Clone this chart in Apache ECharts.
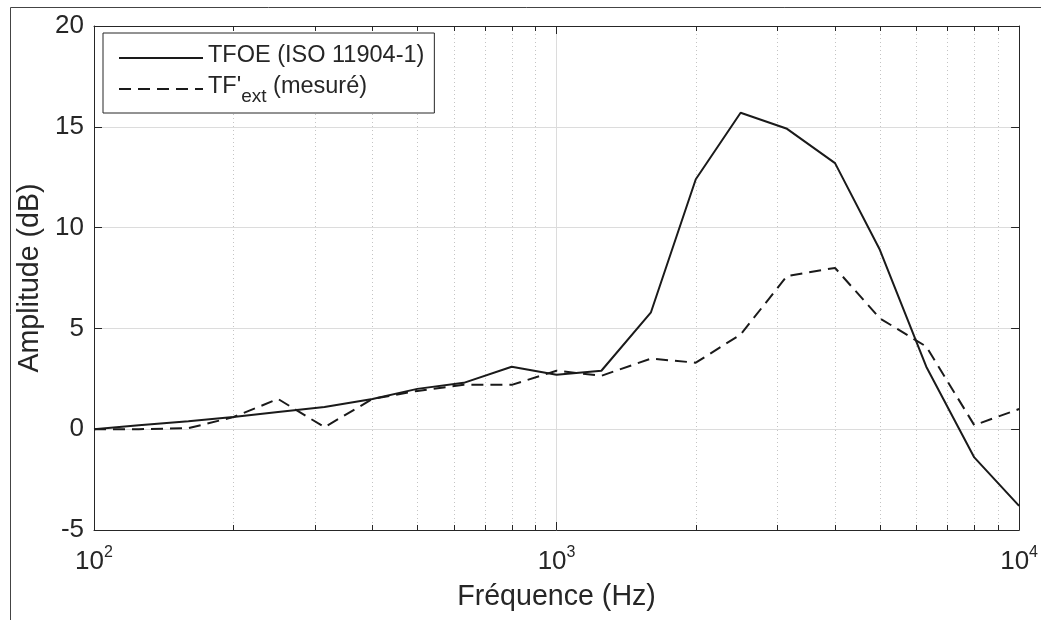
<!DOCTYPE html>
<html>
<head>
<meta charset="utf-8">
<script src="https://cdn.jsdelivr.net/npm/echarts@6/dist/echarts.min.js"></script>
<style>html,body{margin:0;padding:0;background:#fff}#c{width:1041px;height:620px}</style>
</head>
<body>
<div id="c"></div>
<script>
const freqs = [100,125,160,200,250,315,400,500,630,800,1000,1250,1600,2000,2500,3150,4000,5000,6300,8000,10000];
const tfoe = [0,0.2,0.4,0.6,0.85,1.1,1.5,2.0,2.3,3.1,2.7,2.9,5.8,12.4,15.7,14.9,13.2,8.9,3.1,-1.4,-3.8];
const tfext = [0,0,0.05,0.6,1.5,0.1,1.5,1.9,2.2,2.2,2.9,2.65,3.5,3.3,4.7,7.6,8.0,5.5,4.1,0.2,1.0];
const minorFreqs = [200,300,400,500,600,700,800,900,2000,3000,4000,5000,6000,7000,8000,9000];
const yTicks = [-5,0,5,10,15,20];
const nameA = 'TFOE (ISO 11904-1)';
const nameB = "TF'ext (mesuré)";

const FONT = '"Liberation Sans", Arial, Helvetica, sans-serif';
const TXT = '#262626';
const chart = echarts.init(document.getElementById('c'));

const commonX = {
  type: 'log', logBase: 10, min: 100, max: 10000,
  axisLine: {show: true, onZero: false, lineStyle: {color: TXT, width: 1}},
  axisTick: {show: true, inside: true, length: 8, lineStyle: {color: TXT}},
  minorTick: {show: false},
  splitLine: {show: false}
};
const commonY = {
  type: 'value', min: -5, max: 20, interval: 5,
  axisLine: {show: true, onZero: false, lineStyle: {color: TXT, width: 1}},
  axisTick: {show: true, inside: true, length: 8, lineStyle: {color: TXT}},
  splitLine: {show: false}
};

chart.setOption({
  animation: false,
  textStyle: {fontFamily: FONT},
  graphic: [{
    type: 'rect', silent: true, z: -10,
    shape: {x: 10.5, y: 7.5, width: 1100, height: 700},
    style: {fill: 'none', stroke: '#444', lineWidth: 1}
  }],
  grid: {left: 94, right: 21, top: 26, bottom: 90, containLabel: false},
  legend: {
    left: 103, top: 33, orient: 'vertical',
    backgroundColor: '#fff', borderColor: TXT, borderWidth: 1,
    padding: [11, 10, 7, 15], itemGap: 7,
    itemWidth: 84, itemHeight: 14,
    itemStyle: {opacity: 0},
    data: [nameA, nameB],
    formatter: function (n) {
      if (n === nameB) return "{a|TF'}{s|ext}{a| (mesuré)}";
      return '{a|' + n + '}';
    },
    textStyle: {
      color: TXT, fontFamily: FONT, fontSize: 23.5,
      rich: {
        a: {fontSize: 23.5, color: TXT, fontFamily: FONT, verticalAlign: 'top', lineHeight: 28},
        s: {fontSize: 19, color: TXT, fontFamily: FONT, verticalAlign: 'top', lineHeight: 28, padding: [12, 0, 0, 0]}
      }
    }
  },
  xAxis: [
    Object.assign({}, commonX, {
      position: 'bottom',
      name: 'Fréquence (Hz)', nameLocation: 'middle', nameGap: 53,
      nameTextStyle: {fontSize: 28.6, color: TXT, fontFamily: FONT},
      splitLine: {show: true, lineStyle: {color: '#dcdcdc', width: 1}},
      axisLabel: {
        margin: 15, color: TXT,
        formatter: function (v) { return '{b|10}{p|' + Math.round(Math.log10(v)) + '}'; },
        rich: {
          b: {fontSize: 26, fontFamily: FONT, color: TXT, verticalAlign: 'top', padding: [4, 0, 0, 0]},
          p: {fontSize: 16, fontFamily: FONT, color: TXT, verticalAlign: 'top'}
        }
      }
    }),
    Object.assign({}, commonX, {position: 'top', axisLabel: {show: false}})
  ],
  yAxis: [
    Object.assign({}, commonY, {
      position: 'left',
      name: 'Amplitude (dB)', nameLocation: 'middle', nameGap: 47,
      nameTextStyle: {fontSize: 28.6, color: TXT, fontFamily: FONT},
      splitLine: {show: true, lineStyle: {color: '#dcdcdc', width: 1}},
      axisLabel: {margin: 10, fontSize: 26, color: TXT, fontFamily: FONT,
        formatter: function (v) { return yTicks.indexOf(v) >= 0 ? String(v) : ''; }}
    }),
    Object.assign({}, commonY, {position: 'right', axisLabel: {show: false}})
  ],
  series: [
    {
      type: 'custom', name: 'minor', silent: true, z: 1,
      data: minorFreqs.map(f => [f, 0]),
      renderItem: function (params, api) {
        const cs = params.coordSys;
        const x = Math.round(api.coord([api.value(0), 0])[0]) + 0.5;
        const top = cs.y, bot = cs.y + cs.height;
        return {
          type: 'group',
          children: [
            {type: 'line', shape: {x1: x, y1: top, x2: x, y2: bot},
             style: {stroke: '#c4c4c4', lineWidth: 1, lineDash: [1, 3]}},
            {type: 'line', shape: {x1: x, y1: bot, x2: x, y2: bot - 5},
             style: {stroke: TXT, lineWidth: 1}},
            {type: 'line', shape: {x1: x, y1: top, x2: x, y2: top + 5},
             style: {stroke: TXT, lineWidth: 1}}
          ]
        };
      }
    },
    {
      type: 'line', name: nameA, z: 5,
      data: freqs.map((f, i) => [f, tfoe[i]]),
      symbol: 'none', showSymbol: false,
      lineStyle: {color: '#1a1a1a', width: 2, type: 'solid'},
      itemStyle: {color: '#1a1a1a'}
    },
    {
      type: 'line', name: nameB, z: 5,
      data: freqs.map((f, i) => [f, tfext[i]]),
      symbol: 'none', showSymbol: false,
      lineStyle: {color: '#1a1a1a', width: 2, type: [12, 7]},
      itemStyle: {color: '#1a1a1a'}
    }
  ]
});
</script>
</body>
</html>
